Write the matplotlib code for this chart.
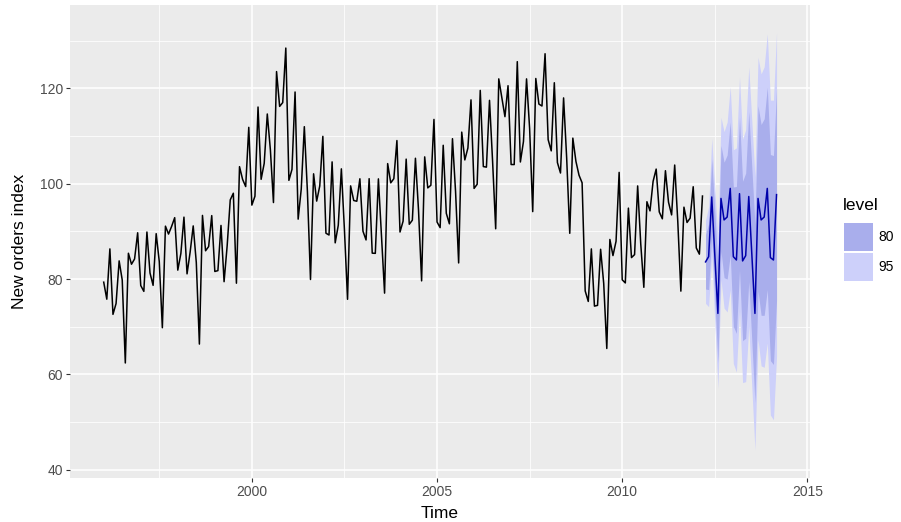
import numpy as np
import matplotlib
matplotlib.use("Agg")
import matplotlib.pyplot as plt
from matplotlib.patches import Rectangle

plt.rcParams['font.family'] = ['Liberation Sans', 'DejaVu Sans']

# monthly new orders index, Jan 1996 - Mar 2012
orders = [
    79.35, 75.78, 86.32, 72.60, 74.86, 83.81, 79.80, 62.41, 85.41, 83.11, 84.21, 89.70,
    78.64, 77.42, 89.86, 81.27, 78.68, 89.51, 83.67, 69.80, 91.09, 89.43, 91.04, 92.87,
    81.87, 85.36, 92.98, 81.09, 85.64, 91.14, 83.46, 66.37, 93.34, 85.93, 86.81, 93.30,
    81.59, 81.77, 91.24, 79.45, 86.99, 96.60, 97.99, 79.13, 103.56, 100.89, 99.39, 111.80,
    95.50, 97.36, 116.06, 100.91, 104.25, 114.60, 107.10, 96.04, 123.49, 116.19, 116.99, 128.42,
    100.69, 102.99, 119.21, 92.56, 98.86, 111.94, 98.34, 79.91, 102.06, 96.34, 99.52, 109.91,
    89.61, 89.23, 104.56, 87.59, 91.28, 103.10, 90.26, 75.76, 99.53, 96.47, 96.31, 101.02,
    90.03, 88.20, 101.04, 85.43, 85.39, 101.00, 88.95, 77.05, 104.20, 100.17, 101.04, 109.03,
    89.86, 92.13, 105.14, 91.48, 92.34, 105.32, 94.43, 79.62, 105.61, 99.11, 99.66, 113.46,
    91.96, 90.78, 108.04, 93.78, 91.58, 109.42, 98.33, 83.38, 110.80, 104.97, 107.47, 117.56,
    99.00, 99.87, 119.54, 103.58, 103.46, 117.46, 104.65, 90.54, 121.96, 118.06, 114.04, 120.53,
    104.01, 104.00, 125.57, 104.54, 108.83, 121.96, 111.54, 94.14, 122.04, 116.68, 116.27, 127.23,
    109.22, 106.87, 121.15, 104.42, 102.23, 117.97, 105.38, 89.59, 109.54, 104.67, 101.77, 100.18,
    77.51, 75.31, 86.32, 74.33, 74.48, 86.24, 79.09, 65.45, 88.30, 84.92, 87.92, 102.36,
    79.84, 79.19, 94.87, 84.50, 85.12, 99.52, 87.38, 78.27, 96.21, 94.29, 100.48, 103.05,
    94.07, 92.63, 102.71, 96.11, 93.45, 103.90, 92.05, 77.47, 95.07, 91.86, 92.77, 99.35,
    86.52, 85.22, 97.40,
]

# forecast Apr 2012 - Mar 2014
fc_mean = [83.6, 84.7, 97.2, 85.0, 72.8, 96.9, 92.4, 93.0, 99.0, 84.7, 84.0, 97.9,
           83.8, 84.9, 97.3, 85.1, 72.8, 96.9, 92.4, 93.0, 99.0, 84.5, 84.0, 97.7]
lo80 = [77.9, 77.8, 89.2, 75.8, 62.5, 85.8, 80.3, 80.0, 85.1, 70.1, 68.6, 81.9,
        67.1, 67.6, 79.5, 66.9, 54.1, 77.5, 72.4, 72.4, 77.8, 62.9, 62.1, 75.5]
hi80 = [89.3, 91.6, 105.2, 94.2, 83.1, 108.0, 104.5, 106.0, 112.9, 99.3, 99.4, 113.9,
        100.5, 102.2, 115.1, 103.3, 91.5, 116.3, 112.4, 113.6, 120.2, 106.1, 105.9, 119.9]
lo95 = [74.9, 74.2, 84.9, 71.0, 57.1, 79.9, 73.9, 73.1, 77.7, 62.3, 60.5, 73.4,
        58.3, 58.5, 70.1, 57.2, 44.2, 67.3, 61.8, 61.5, 66.6, 51.5, 50.5, 63.7]
hi95 = [92.3, 95.2, 109.5, 99.0, 88.5, 113.9, 110.9, 112.9, 120.3, 107.1, 107.5, 122.4,
        109.3, 111.3, 124.5, 113.0, 101.4, 126.5, 123.0, 124.5, 131.4, 117.5, 117.5, 131.7]

levels = ["80", "95"]
level_colors = ["#A9AEEC", "#CDD0FA"]

t_hist = 1996 + np.arange(len(orders)) / 12
t_fc = t_hist[-1] + (np.arange(len(fc_mean)) + 1) / 12

fig = plt.figure(figsize=(9.01, 5.22), dpi=100)
ax = fig.add_axes([0.0777, 0.0843, 0.8213, 0.9057])
ax.set_facecolor("#EBEBEB")

ax.fill_between(t_fc, lo95, hi95, color=level_colors[1], lw=0)
ax.fill_between(t_fc, lo80, hi80, color=level_colors[0], lw=0)
ax.plot(t_hist, orders, color="black", lw=1.1)
ax.plot(t_fc, fc_mean, color="#0000AA", lw=1.1)

ax.set_xlim(1995.09, 2015.07)
ax.set_ylim(38.3, 137.4)
ax.set_xticks([2000, 2005, 2010, 2015])
ax.set_yticks([40, 60, 80, 100, 120])
ax.set_xticks([1997.5, 2002.5, 2007.5, 2012.5], minor=True)
ax.set_yticks([50, 70, 90, 110, 130], minor=True)
ax.grid(which="major", color="white", lw=1.1)
ax.grid(which="minor", color="white", lw=0.55)
ax.set_axisbelow(True)
for s in ax.spines.values():
    s.set_visible(False)
ax.tick_params(which="major", length=3, width=0.8, color="#333333",
               labelsize=10, labelcolor="#4D4D4D", pad=2)
ax.tick_params(which="minor", length=0)
ax.set_xlabel("Time", fontsize=12.5, labelpad=5)
ax.set_ylabel("New orders index", fontsize=12.5, labelpad=9)

# legend drawn by hand, ggplot style
fig.text(843 / 901, 1 - 205 / 522, "level", fontsize=12.5, va="center", ha="left")
for k, (lab, col) in enumerate(zip(levels, level_colors)):
    y0 = 1 - (251 + 30 * k) / 522
    fig.patches.append(Rectangle((844 / 901, y0), 29 / 901, 28 / 522,
                                 transform=fig.transFigure, color=col, lw=0))
    fig.text(878 / 901, y0 + 14 / 522, lab, fontsize=10, va="center", ha="left")

fig.savefig("out.png", dpi=100)
